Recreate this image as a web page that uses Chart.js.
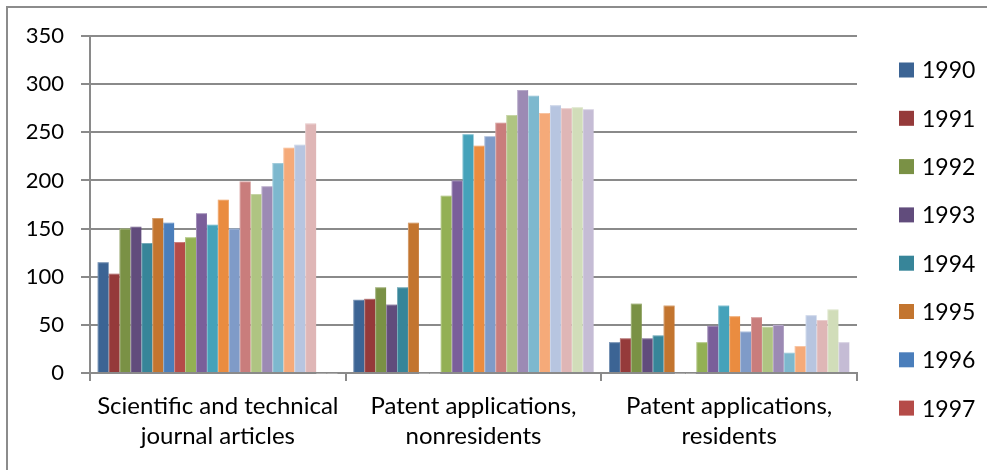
<!DOCTYPE html>
<html>
<head>
<meta charset="utf-8">
<script src="https://cdn.jsdelivr.net/npm/chart.js@4"></script>
<style>
  html, body { margin: 0; padding: 0; background: #fff; }
  #wrap { width: 987px; height: 470px; }
</style>
</head>
<body>
<div id="wrap"><canvas id="chart" width="987" height="470"></canvas></div>
<script>
// categories on the x axis
const categories = [
  ['Scientific and technical', 'journal articles'],
  ['Patent applications,', 'nonresidents'],
  ['Patent applications,', 'residents']
];

// one series per year
const years = ['1990','1991','1992','1993','1994','1995','1996','1997','1998','1999','2000',
               '2001','2002','2003','2004','2005','2006','2007','2008','2009','2010','2011'];

// values per category, in the order of years (null = no bar)
const journalArticles = [115, 103, 150, 152, 135, 161, 156, 136, 141, 166, 154,
                         180, 150, 199, 186, 194, 218, 234, 237, 259, null, null];
const patentsNonresidents = [76, 77, 89, 71, 89, 156, null, null, 184, 200, 248,
                             236, 246, 260, 268, 294, 288, 270, 278, 275, 276, 274];
const patentsResidents = [32, 36, 72, 36, 39, 70, null, null, 32, 49, 70,
                          59, 43, 58, 48, 50, 21, 28, 60, 55, 66, 32];

const yTicks = [0, 50, 100, 150, 200, 250, 300, 350];

const colors = [
  '#3C6494','#953A3A','#7A9145','#614C7C','#378599','#C3752F',
  '#4A7EBB','#B54B48','#93B054','#7A5F9A','#45A2BA','#EA8C40',
  '#7F9BC8','#C97D7C','#AFC482','#9C8AB4','#7DB8CE','#F5AA79',
  '#B7C5E0','#DFB6B6','#D1DDB9','#C5BCD5'
];

const FONT = 'Lato';
const GRID = '#8a8a8a';

const datasets = years.map((y, i) => ({
  label: y,
  data: [journalArticles[i], patentsNonresidents[i], patentsResidents[i]],
  backgroundColor: colors[i],
  borderWidth: 0,
  barPercentage: 1.0,
  categoryPercentage: 0.94
}));

// frame around the chart (left and top edges visible)
const framePlugin = {
  id: 'frame',
  beforeDraw(chart) {
    const ctx = chart.ctx;
    ctx.save();
    ctx.strokeStyle = '#8c8c8c';
    ctx.lineWidth = 2;
    ctx.beginPath();
    ctx.moveTo(7, chart.height + 5);
    ctx.lineTo(7, 7);
    ctx.lineTo(chart.width + 5, 7);
    ctx.stroke();
    ctx.restore();
  }
};

// thin light separators between neighbouring bars
const barEdgePlugin = {
  id: 'barEdges',
  afterDatasetsDraw(chart) {
    const ctx = chart.ctx;
    ctx.save();
    ctx.strokeStyle = 'rgba(255,255,255,0.3)';
    ctx.lineWidth = 1;
    chart.data.datasets.forEach((ds, i) => {
      chart.getDatasetMeta(i).data.forEach(bar => {
        if (bar.skip || bar.height === 0) return;
        const p = bar.getProps(['x', 'y', 'base', 'width'], true);
        const l = p.x - p.width / 2, r = p.x + p.width / 2;
        ctx.beginPath();
        ctx.moveTo(l + 0.5, p.base);
        ctx.lineTo(l + 0.5, p.y + 0.5);
        ctx.lineTo(r - 0.5, p.y + 0.5);
        ctx.stroke();
      });
    });
    ctx.restore();
  }
};

// legend on the right, only the first 8 years fit
const legendPlugin = {
  id: 'sideLegend',
  afterDraw(chart) {
    const ctx = chart.ctx;
    ctx.save();
    ctx.font = '23px ' + FONT;
    ctx.textBaseline = 'middle';
    const shown = 8;
    for (let i = 0; i < shown; i++) {
      const ds = chart.data.datasets[i];
      const cy = 70 + i * 48.3;
      ctx.fillStyle = ds.backgroundColor;
      ctx.fillRect(899, cy - 7.5, 15, 15);
      ctx.fillStyle = '#000';
      ctx.fillText(ds.label, 922, cy + 1);
    }
    ctx.restore();
  }
};

new Chart(document.getElementById('chart'), {
  type: 'bar',
  data: { labels: categories, datasets: datasets },
  plugins: [framePlugin, barEdgePlugin, legendPlugin],
  options: {
    responsive: false,
    animation: false,
    layout: { padding: { top: 36, right: 130, bottom: 0, left: 0 } },
    plugins: {
      legend: { display: false },
      tooltip: { enabled: false }
    },
    scales: {
      x: {
        offset: true,
        grid: {
          offset: true,
          drawOnChartArea: false,
          drawTicks: true,
          tickLength: 8,
          color: GRID,
          lineWidth: 2
        },
        border: { display: true, color: GRID, width: 2 },
        ticks: {
          color: '#000',
          font: { family: FONT, size: 24, lineHeight: 1.25 },
          padding: 10,
          maxRotation: 0,
          autoSkip: false
        },
        afterFit(scale) { scale.height = 97; }
      },
      y: {
        min: 0,
        max: 350,
        afterBuildTicks(scale) { scale.ticks = yTicks.map(v => ({ value: v })); },
        grid: {
          color: GRID,
          lineWidth: 2,
          tickLength: 9
        },
        border: { display: true, color: GRID, width: 2 },
        ticks: {
          color: '#000',
          font: { family: FONT, size: 22 },
          padding: 17
        },
        afterFit(scale) { scale.width = 90; }
      }
    }
  }
});
</script>
</body>
</html>
